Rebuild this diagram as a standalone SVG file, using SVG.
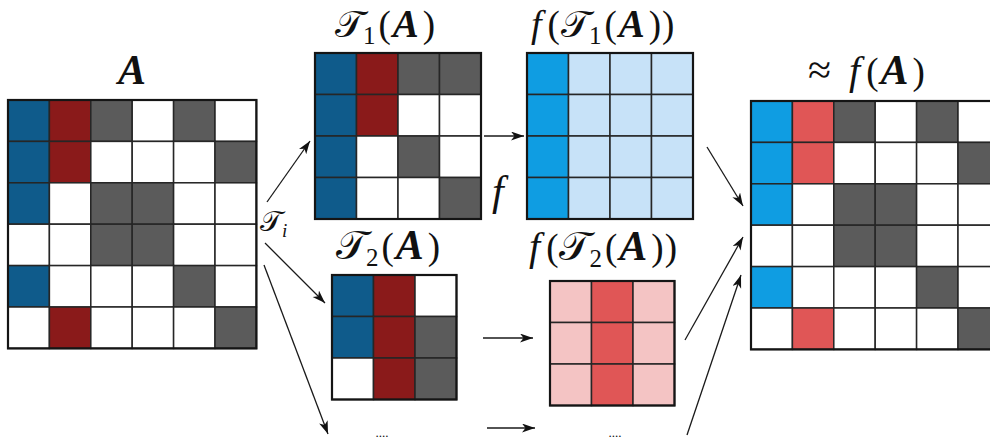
<svg xmlns="http://www.w3.org/2000/svg" width="990" height="441" viewBox="0 0 990 441">
<style>
.c{stroke:#262626;stroke-width:1.5}
.b{fill:#0f5b8b}.r{fill:#8a1a1a}.g{fill:#5b5b5b}.w{fill:#ffffff}
.B{fill:#0f9de2}.R{fill:#e05656}.lb{fill:#c7e2f8}.lr{fill:#f4c4c4}
.frame{fill:none;stroke:#151515;stroke-width:2.2}
.t{font-family:"Liberation Serif",serif;font-size:37px;fill:#111}
.cal{font-family:"DejaVu Sans",sans-serif;font-style:normal;font-weight:normal;font-size:41px}
.bi{font-weight:bold;font-style:italic;font-size:42px}
.it{font-style:italic}
.sub{font-size:25px}
.top .cal{font-size:38px}
.top .bi{font-size:39px}
.conn{stroke:#1a1a1a;stroke-width:1.3;fill:none}
</style>
<defs>
<marker id="ah" markerUnits="userSpaceOnUse" markerWidth="15" markerHeight="10" refX="13" refY="4.5" orient="auto">
<path d="M0,0 L13,4.5 L0,9 L3.5,4.5 z" fill="#111"/>
</marker>
</defs>
<rect width="990" height="441" fill="#ffffff"/>

<g id="matrix-A">
<text class="t" x="132" y="84" text-anchor="middle" font-family="Liberation Serif, serif"><tspan class="bi">A</tspan></text>
<g class="c">
<rect class="b" x="8" y="100" width="41.4" height="41.4"/><rect class="r" x="49.4" y="100" width="41.4" height="41.4"/><rect class="g" x="90.8" y="100" width="41.4" height="41.4"/><rect class="w" x="132.2" y="100" width="41.4" height="41.4"/><rect class="g" x="173.6" y="100" width="41.4" height="41.4"/><rect class="w" x="215" y="100" width="41.4" height="41.4"/>
<rect class="b" x="8" y="141.4" width="41.4" height="41.4"/><rect class="r" x="49.4" y="141.4" width="41.4" height="41.4"/><rect class="w" x="90.8" y="141.4" width="41.4" height="41.4"/><rect class="w" x="132.2" y="141.4" width="41.4" height="41.4"/><rect class="w" x="173.6" y="141.4" width="41.4" height="41.4"/><rect class="g" x="215" y="141.4" width="41.4" height="41.4"/>
<rect class="b" x="8" y="182.8" width="41.4" height="41.4"/><rect class="w" x="49.4" y="182.8" width="41.4" height="41.4"/><rect class="g" x="90.8" y="182.8" width="41.4" height="41.4"/><rect class="g" x="132.2" y="182.8" width="41.4" height="41.4"/><rect class="w" x="173.6" y="182.8" width="41.4" height="41.4"/><rect class="w" x="215" y="182.8" width="41.4" height="41.4"/>
<rect class="w" x="8" y="224.2" width="41.4" height="41.4"/><rect class="w" x="49.4" y="224.2" width="41.4" height="41.4"/><rect class="g" x="90.8" y="224.2" width="41.4" height="41.4"/><rect class="g" x="132.2" y="224.2" width="41.4" height="41.4"/><rect class="w" x="173.6" y="224.2" width="41.4" height="41.4"/><rect class="w" x="215" y="224.2" width="41.4" height="41.4"/>
<rect class="b" x="8" y="265.6" width="41.4" height="41.4"/><rect class="w" x="49.4" y="265.6" width="41.4" height="41.4"/><rect class="w" x="90.8" y="265.6" width="41.4" height="41.4"/><rect class="w" x="132.2" y="265.6" width="41.4" height="41.4"/><rect class="g" x="173.6" y="265.6" width="41.4" height="41.4"/><rect class="w" x="215" y="265.6" width="41.4" height="41.4"/>
<rect class="w" x="8" y="307" width="41.4" height="41.4"/><rect class="r" x="49.4" y="307" width="41.4" height="41.4"/><rect class="w" x="90.8" y="307" width="41.4" height="41.4"/><rect class="w" x="132.2" y="307" width="41.4" height="41.4"/><rect class="w" x="173.6" y="307" width="41.4" height="41.4"/><rect class="g" x="215" y="307" width="41.4" height="41.4"/>
</g>
<rect class="frame" x="8" y="100" width="248.4" height="248.4"/>
</g>

<g id="label-Ti">
<text class="t" x="260" y="231" font-family="Liberation Serif, serif" style="font-size:28px"><tspan class="cal" style="font-size:29px">𝒯</tspan><tspan class="it" style="font-size:19px" dy="6">i</tspan></text>
</g>

<g id="matrix-T1">
<text class="t top" x="335" y="37" font-family="Liberation Serif, serif"><tspan class="cal">𝒯</tspan><tspan class="sub" dy="7" dx="-1">1</tspan><tspan dy="-7" dx="3">(</tspan><tspan class="bi" dx="2">A</tspan><tspan dx="4">)</tspan></text>
<g class="c">
<rect class="b" x="315" y="53" width="41.5" height="41.5"/><rect class="r" x="356.5" y="53" width="41.5" height="41.5"/><rect class="g" x="398" y="53" width="41.5" height="41.5"/><rect class="g" x="439.5" y="53" width="41.5" height="41.5"/>
<rect class="b" x="315" y="94.5" width="41.5" height="41.5"/><rect class="r" x="356.5" y="94.5" width="41.5" height="41.5"/><rect class="w" x="398" y="94.5" width="41.5" height="41.5"/><rect class="w" x="439.5" y="94.5" width="41.5" height="41.5"/>
<rect class="b" x="315" y="136" width="41.5" height="41.5"/><rect class="w" x="356.5" y="136" width="41.5" height="41.5"/><rect class="g" x="398" y="136" width="41.5" height="41.5"/><rect class="w" x="439.5" y="136" width="41.5" height="41.5"/>
<rect class="b" x="315" y="177.5" width="41.5" height="41.5"/><rect class="w" x="356.5" y="177.5" width="41.5" height="41.5"/><rect class="w" x="398" y="177.5" width="41.5" height="41.5"/><rect class="g" x="439.5" y="177.5" width="41.5" height="41.5"/>
</g>
<rect class="frame" x="315" y="53" width="166" height="166"/>
</g>

<g id="matrix-fT1">
<text class="t top" x="531" y="37" font-family="Liberation Serif, serif"><tspan class="it" style="font-size:38px">f</tspan><tspan dx="6">(</tspan><tspan class="cal" dx="1">𝒯</tspan><tspan class="sub" dy="7" dx="-1">1</tspan><tspan dy="-7" dx="3">(</tspan><tspan class="bi" dx="2">A</tspan><tspan dx="4">)</tspan><tspan dx="1">)</tspan></text>
<g class="c">
<rect class="B" x="527" y="53" width="41.5" height="41.5"/><rect class="lb" x="568.5" y="53" width="41.5" height="41.5"/><rect class="lb" x="610" y="53" width="41.5" height="41.5"/><rect class="lb" x="651.5" y="53" width="41.5" height="41.5"/>
<rect class="B" x="527" y="94.5" width="41.5" height="41.5"/><rect class="lb" x="568.5" y="94.5" width="41.5" height="41.5"/><rect class="lb" x="610" y="94.5" width="41.5" height="41.5"/><rect class="lb" x="651.5" y="94.5" width="41.5" height="41.5"/>
<rect class="B" x="527" y="136" width="41.5" height="41.5"/><rect class="lb" x="568.5" y="136" width="41.5" height="41.5"/><rect class="lb" x="610" y="136" width="41.5" height="41.5"/><rect class="lb" x="651.5" y="136" width="41.5" height="41.5"/>
<rect class="B" x="527" y="177.5" width="41.5" height="41.5"/><rect class="lb" x="568.5" y="177.5" width="41.5" height="41.5"/><rect class="lb" x="610" y="177.5" width="41.5" height="41.5"/><rect class="lb" x="651.5" y="177.5" width="41.5" height="41.5"/>
</g>
<rect class="frame" x="527" y="53" width="166" height="166"/>
</g>

<g id="label-f">
<text x="492" y="205" font-family="Liberation Serif, serif" font-style="italic" font-size="42" fill="#111">f</text>
</g>

<g id="matrix-T2">
<text class="t" x="336" y="259" font-family="Liberation Serif, serif"><tspan class="cal">𝒯</tspan><tspan class="sub" dy="7" dx="-1">2</tspan><tspan dy="-7" dx="3">(</tspan><tspan class="bi" dx="2">A</tspan><tspan dx="4">)</tspan></text>
<g class="c">
<rect class="b" x="332" y="275" width="41.5" height="41.5"/><rect class="r" x="373.5" y="275" width="41.5" height="41.5"/><rect class="w" x="415" y="275" width="41.5" height="41.5"/>
<rect class="b" x="332" y="316.5" width="41.5" height="41.5"/><rect class="r" x="373.5" y="316.5" width="41.5" height="41.5"/><rect class="g" x="415" y="316.5" width="41.5" height="41.5"/>
<rect class="w" x="332" y="358" width="41.5" height="41.5"/><rect class="r" x="373.5" y="358" width="41.5" height="41.5"/><rect class="g" x="415" y="358" width="41.5" height="41.5"/>
</g>
<rect class="frame" x="332" y="275" width="124.5" height="124.5"/>
</g>

<g id="matrix-fT2">
<text class="t" x="529" y="260" font-family="Liberation Serif, serif"><tspan class="it" style="font-size:40px">f</tspan><tspan dx="6">(</tspan><tspan class="cal" dx="1">𝒯</tspan><tspan class="sub" dy="7" dx="-1">2</tspan><tspan dy="-7" dx="3">(</tspan><tspan class="bi" dx="2">A</tspan><tspan dx="4">)</tspan><tspan dx="1">)</tspan></text>
<g class="c">
<rect class="lr" x="550" y="281" width="41.5" height="41.5"/><rect class="R" x="591.5" y="281" width="41.5" height="41.5"/><rect class="lr" x="633" y="281" width="41.5" height="41.5"/>
<rect class="lr" x="550" y="322.5" width="41.5" height="41.5"/><rect class="R" x="591.5" y="322.5" width="41.5" height="41.5"/><rect class="lr" x="633" y="322.5" width="41.5" height="41.5"/>
<rect class="lr" x="550" y="364" width="41.5" height="41.5"/><rect class="R" x="591.5" y="364" width="41.5" height="41.5"/><rect class="lr" x="633" y="364" width="41.5" height="41.5"/>
</g>
<rect class="frame" x="550" y="281" width="124.5" height="124.5"/>
</g>

<g id="ellipsis-1"><text class="t" x="382" y="437" text-anchor="middle" font-family="Liberation Serif, serif" style="font-size:13px">....</text></g>
<g id="ellipsis-2"><text class="t" x="615" y="437" text-anchor="middle" font-family="Liberation Serif, serif" style="font-size:13px">....</text></g>

<g id="matrix-result">
<text class="t" x="808" y="84" font-family="Liberation Serif, serif"><tspan style="font-size:42px">≈</tspan><tspan class="it" dx="18" style="font-size:40px">f</tspan><tspan dx="6">(</tspan><tspan class="bi" dx="2">A</tspan><tspan dx="4">)</tspan></text>
<g class="c">
<rect class="B" x="751" y="101" width="41.4" height="41.4"/><rect class="R" x="792.4" y="101" width="41.4" height="41.4"/><rect class="g" x="833.8" y="101" width="41.4" height="41.4"/><rect class="w" x="875.2" y="101" width="41.4" height="41.4"/><rect class="g" x="916.6" y="101" width="41.4" height="41.4"/><rect class="w" x="958" y="101" width="41.4" height="41.4"/>
<rect class="B" x="751" y="142.4" width="41.4" height="41.4"/><rect class="R" x="792.4" y="142.4" width="41.4" height="41.4"/><rect class="w" x="833.8" y="142.4" width="41.4" height="41.4"/><rect class="w" x="875.2" y="142.4" width="41.4" height="41.4"/><rect class="w" x="916.6" y="142.4" width="41.4" height="41.4"/><rect class="g" x="958" y="142.4" width="41.4" height="41.4"/>
<rect class="B" x="751" y="183.8" width="41.4" height="41.4"/><rect class="w" x="792.4" y="183.8" width="41.4" height="41.4"/><rect class="g" x="833.8" y="183.8" width="41.4" height="41.4"/><rect class="g" x="875.2" y="183.8" width="41.4" height="41.4"/><rect class="w" x="916.6" y="183.8" width="41.4" height="41.4"/><rect class="w" x="958" y="183.8" width="41.4" height="41.4"/>
<rect class="w" x="751" y="225.2" width="41.4" height="41.4"/><rect class="w" x="792.4" y="225.2" width="41.4" height="41.4"/><rect class="g" x="833.8" y="225.2" width="41.4" height="41.4"/><rect class="g" x="875.2" y="225.2" width="41.4" height="41.4"/><rect class="w" x="916.6" y="225.2" width="41.4" height="41.4"/><rect class="w" x="958" y="225.2" width="41.4" height="41.4"/>
<rect class="B" x="751" y="266.6" width="41.4" height="41.4"/><rect class="w" x="792.4" y="266.6" width="41.4" height="41.4"/><rect class="w" x="833.8" y="266.6" width="41.4" height="41.4"/><rect class="w" x="875.2" y="266.6" width="41.4" height="41.4"/><rect class="g" x="916.6" y="266.6" width="41.4" height="41.4"/><rect class="w" x="958" y="266.6" width="41.4" height="41.4"/>
<rect class="w" x="751" y="308" width="41.4" height="41.4"/><rect class="R" x="792.4" y="308" width="41.4" height="41.4"/><rect class="w" x="833.8" y="308" width="41.4" height="41.4"/><rect class="w" x="875.2" y="308" width="41.4" height="41.4"/><rect class="w" x="916.6" y="308" width="41.4" height="41.4"/><rect class="g" x="958" y="308" width="41.4" height="41.4"/>
</g>
<rect class="frame" x="751" y="101" width="248.4" height="248.4"/>
</g>

<g id="connectors" class="conn">
<line x1="267" y1="202" x2="310" y2="141" marker-end="url(#ah)"/>
<line x1="265" y1="243" x2="325" y2="303" marker-end="url(#ah)"/>
<line x1="264" y1="265" x2="328" y2="434" marker-end="url(#ah)"/>
<line x1="484" y1="136" x2="524" y2="136" marker-end="url(#ah)"/>
<line x1="483" y1="338" x2="533" y2="338" marker-end="url(#ah)"/>
<line x1="487" y1="428" x2="535" y2="428" marker-end="url(#ah)"/>
<line x1="707" y1="147" x2="743" y2="206" marker-end="url(#ah)"/>
<line x1="685" y1="340" x2="743" y2="237" marker-end="url(#ah)"/>
<line x1="687" y1="435" x2="741" y2="275" marker-end="url(#ah)"/>
</g>
</svg>
